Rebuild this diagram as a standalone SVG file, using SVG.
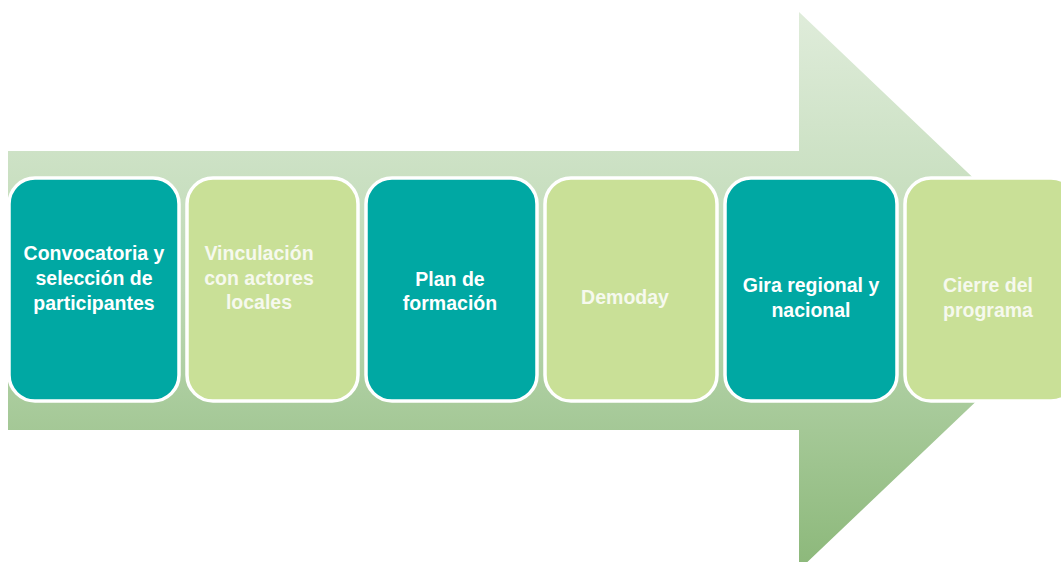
<svg xmlns="http://www.w3.org/2000/svg" width="1061" height="562" viewBox="0 0 1061 562">
  <defs>
    <linearGradient id="arrowGrad" x1="0" y1="12" x2="0" y2="570" gradientUnits="userSpaceOnUse">
      <stop offset="0" stop-color="#dfecda"/>
      <stop offset="0.5" stop-color="#bcd8b2"/>
      <stop offset="1" stop-color="#8cb87a"/>
    </linearGradient>
  </defs>
  <style>
    .box { stroke: #ffffff; stroke-width: 3.5; }
    .dark { fill: #00a8a3; }
    .light { fill: #c9e097; }
    .lbl { font-family: "Liberation Sans", Arial, sans-serif; font-weight: bold; font-size: 19.5px; fill: #ffffff; text-anchor: middle; }
    .lbl2 { fill: #f6f9ee; }
  </style>
  <rect width="1061" height="562" fill="#ffffff"/>
  <g id="arrow">
    <polygon points="8,151 799,151 799,12 1092,291 799,570 799,430 8,430" fill="url(#arrowGrad)"/>
  </g>
  <g id="connectors"></g>
  <g id="node1">
    <rect class="box dark" x="9" y="178" width="170" height="223" rx="26"/>
    <text class="lbl" x="94" y="260">Convocatoria y</text>
    <text class="lbl" x="94" y="285">selección de</text>
    <text class="lbl" x="94" y="310">participantes</text>
  </g>
  <g id="node2">
    <rect class="box light" x="187" y="178" width="171" height="223" rx="26"/>
    <text class="lbl lbl2" x="259" y="260">Vinculación</text>
    <text class="lbl lbl2" x="259" y="285">con actores</text>
    <text class="lbl lbl2" x="259" y="309">locales</text>
  </g>
  <g id="node3">
    <rect class="box dark" x="366" y="178" width="171" height="223" rx="26"/>
    <text class="lbl" x="450" y="286">Plan de</text>
    <text class="lbl" x="450" y="310">formación</text>
  </g>
  <g id="node4">
    <rect class="box light" x="545" y="178" width="172" height="223" rx="26"/>
    <text class="lbl lbl2" x="625" y="304">Demoday</text>
  </g>
  <g id="node5">
    <rect class="box dark" x="725" y="178" width="172" height="223" rx="26"/>
    <text class="lbl" x="811" y="292">Gira regional y</text>
    <text class="lbl" x="811" y="317">nacional</text>
  </g>
  <g id="node6">
    <rect class="box light" x="905" y="178" width="172" height="223" rx="26"/>
    <text class="lbl lbl2" x="988" y="292">Cierre del</text>
    <text class="lbl lbl2" x="988" y="317">programa</text>
  </g>
</svg>
